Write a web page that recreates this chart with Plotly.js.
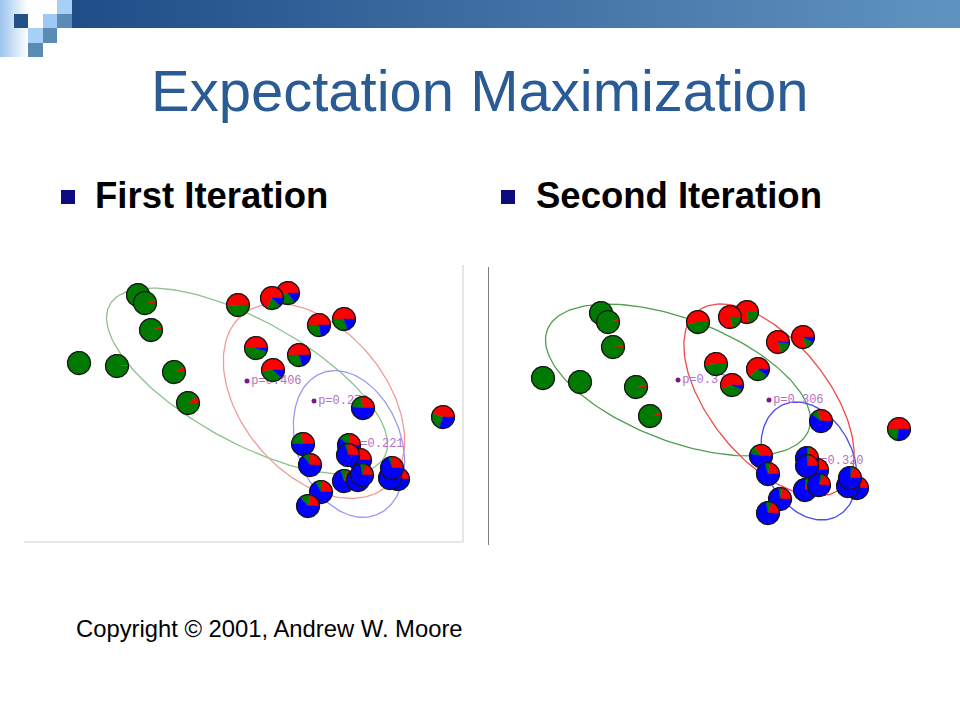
<!DOCTYPE html>
<html><head><meta charset="utf-8">
<script src="https://cdn.plot.ly/plotly-3.0.1.min.js"></script>
<style>
html,body{margin:0;padding:0;background:#fff;}
#wrap{position:relative;width:960px;height:720px;overflow:hidden;background:#fff;}
.d{position:absolute;}
#plot{position:absolute;left:0;top:0;width:960px;height:720px;}
</style></head><body>
<div id="wrap">
<div class="d" style="left:72px;top:0;width:888px;height:28px;background:linear-gradient(to right,#1f4d88,#6094c0);"></div>
<div class="d" style="left:0;top:0;width:28px;height:57px;background:linear-gradient(to right,#9cc4ee,#ffffff);"></div>
<div class="d" style="left:57px;top:0;width:15px;height:14px;background:#a8cff6;"></div>
<div class="d" style="left:14px;top:14px;width:14px;height:14px;background:#24508a;"></div>
<div class="d" style="left:43px;top:14px;width:14px;height:14px;background:#a0c8f4;"></div>
<div class="d" style="left:57px;top:14px;width:15px;height:14px;background:#5a8ab6;"></div>
<div class="d" style="left:28px;top:28px;width:15px;height:15px;background:#a8d0f6;"></div>
<div class="d" style="left:43px;top:28px;width:14px;height:15px;background:#5a8ab6;"></div>
<div class="d" style="left:28px;top:43px;width:15px;height:14px;background:#5a8ab6;"></div>
<div class="d" style="left:61px;top:190px;width:14px;height:14px;background:#0c0c80;"></div>
<div class="d" style="left:501px;top:190px;width:14px;height:14px;background:#0c0c80;"></div>
<div id="plot"></div>
</div>
<script>
// ---------- First iteration (left panel) ----------
const L_x = [114,121,127,55,93,150,164, 214,264,248,295,320,232,275,249, 339,419,279,286,325,336,324,320,334,338,374,366,368,297,284];
const L_y = [248,240,213,180,177,171,140, 238,250,245,218,224,195,188,173, 135,126,99,78,98,83,88,62,63,68,64,65,75,51,37];
const L_red   = [0,0.04,0.05,0,0.01,0.08,0.10, 0.52,0.55,0.68,0.50,0.50,0.50,0.50,0.52, 0.28,0.45,0.28,0.25,0.25,0.30,0.25,0.20,0.20,0.20,0.18,0.20,0.25,0.25,0.22];
const L_green = [1,0.96,0.95,1,0.99,0.92,0.90, 0.48,0.30,0.20,0.28,0.30,0.45,0.30,0.36, 0.20,0.25,0.22,0.10,0.15,0.05,0.05,0.10,0.05,0.08,0.05,0.05,0.05,0.08,0.15];
const L_blue  = [0,0,0,0,0,0,0, 0,0.15,0.12,0.22,0.20,0.05,0.20,0.12, 0.52,0.30,0.50,0.65,0.60,0.65,0.70,0.70,0.75,0.72,0.77,0.75,0.70,0.67,0.63];
const L_ell_cx = [223,290,325];
const L_ell_cy = [162,142,99];
const L_ell_a = [157,112,76];
const L_ell_b = [61,72,52];
const L_ell_ang = [-29,-50,-69];
const L_labels = ['p=0.406','p=0.272','p=0.221'];

// ---------- Second iteration (right panel) ----------
const R_x = [113,120,125,55,92,148,162, 210,259,242,290,315,228,270,244, 333,411,273,280,329,319,319,317,331,369,360,362,292,280];
const R_y = [232,223,198,167,163,158,129, 223,233,228,203,208,181,176,160, 124,116,89,71,75,87,79,55,60,57,59,67,46,32];
const R_red   = [0,0.04,0.03,0,0,0.04,0.05, 0.54,0.78,0.80,0.80,0.80,0.52,0.62,0.56, 0.30,0.50,0.35,0.22,0.25,0.20,0.22,0.20,0.18,0.20,0.20,0.20,0.22,0.20];
const R_green = [1,0.96,0.97,1,1,0.96,0.95, 0.46,0.22,0.20,0.18,0.12,0.48,0.28,0.37, 0.10,0.22,0.12,0.08,0.05,0.05,0.04,0.05,0.05,0.04,0.05,0.04,0.05,0.08];
const R_blue  = [0,0,0,0,0,0,0, 0,0,0,0.02,0.08,0,0.10,0.07, 0.60,0.28,0.53,0.70,0.70,0.75,0.74,0.75,0.77,0.76,0.75,0.76,0.73,0.72];
const R_ell_cx = [190,281,321];
const R_ell_cy = [165,145,84];
const R_ell_a = [140,114,62];
const R_ell_b = [61,59,44];
const R_ell_ang = [-21,-51,-64];
const R_labels = ['p=0.374','p=0.306','p=0.320'];

// ---------- styling ----------
const PIE_R = 11.5;
const SLICE_COLORS = ['#ff0000','#007a00','#0000ff'];
const L_ELL_COLORS = ['#8cc08c','#f29a9a','#9a9af2'];
const R_ELL_COLORS = ['#4f9f4f','#f04a4a','#4a4af0'];

function ellipseTrace(cx, cy, a, b, angDeg, color, xa, ya) {
  const xs = [], ys = [];
  const p = angDeg * Math.PI / 180;
  for (let i = 0; i <= 180; i++) {
    const t = i * 2 * Math.PI / 180;
    xs.push(cx + a * Math.cos(t) * Math.cos(p) - b * Math.sin(t) * Math.sin(p));
    ys.push(cy + a * Math.cos(t) * Math.sin(p) + b * Math.sin(t) * Math.cos(p));
  }
  return {type:'scatter', mode:'lines', x:xs, y:ys, line:{color:color, width:1.3},
          xaxis:xa, yaxis:ya, hoverinfo:'skip', showlegend:false};
}

function wedgeTrace(cx, cy, a0, a1, color, xa, ya) {
  const xs = [cx], ys = [cy];
  const n = Math.max(2, Math.ceil((a1 - a0) / 3));
  for (let i = 0; i <= n; i++) {
    const t = (a0 + (a1 - a0) * i / n) * Math.PI / 180;
    xs.push(cx + PIE_R * Math.cos(t)); ys.push(cy + PIE_R * Math.sin(t));
  }
  xs.push(cx); ys.push(cy);
  return {type:'scatter', mode:'lines', x:xs, y:ys, fill:'toself', fillcolor:color,
          line:{width:0.4, color:color}, xaxis:xa, yaxis:ya, hoverinfo:'skip', showlegend:false};
}

function outlineTrace(cx, cy, xa, ya) {
  const xs = [], ys = [];
  for (let i = 0; i <= 72; i++) {
    const t = i * 2 * Math.PI / 72;
    xs.push(cx + PIE_R * Math.cos(t)); ys.push(cy + PIE_R * Math.sin(t));
  }
  return {type:'scatter', mode:'lines', x:xs, y:ys, line:{color:'#151515', width:1.3},
          xaxis:xa, yaxis:ya, hoverinfo:'skip', showlegend:false};
}

function panel(X, Y, RE, GR, BL, ecx, ecy, ea, eb, eang, ecol, labels, xa, ya) {
  const tr = [];
  for (let k = 0; k < ecx.length; k++) tr.push(ellipseTrace(ecx[k], ecy[k], ea[k], eb[k], eang[k], ecol[k], xa, ya));
  tr.push({type:'scatter', mode:'markers+text', x:ecx, y:ecy, text:labels, textposition:'middle right',
           marker:{size:5, color:'#7a1a8a'},
           textfont:{family:'Liberation Mono, Courier New, monospace', size:12, color:'#b46fc6'},
           xaxis:xa, yaxis:ya, hoverinfo:'skip', showlegend:false, cliponaxis:false});
  for (let i = 0; i < X.length; i++) {
    const fr = [RE[i], GR[i], BL[i]];
    const s = fr[0] + fr[1] + fr[2];
    let a = 0;
    for (let c = 0; c < 3; c++) {
      const span = fr[c] / s * 360;
      if (span > 0.01) tr.push(wedgeTrace(X[i], Y[i], a, a + span, SLICE_COLORS[c], xa, ya));
      a += span;
    }
    tr.push(outlineTrace(X[i], Y[i], xa, ya));
  }
  return tr;
}

const traces = [].concat(
  panel(L_x, L_y, L_red, L_green, L_blue, L_ell_cx, L_ell_cy, L_ell_a, L_ell_b, L_ell_ang, L_ELL_COLORS, L_labels, 'x', 'y'),
  panel(R_x, R_y, R_red, R_green, R_blue, R_ell_cx, R_ell_cy, R_ell_a, R_ell_b, R_ell_ang, R_ELL_COLORS, R_labels, 'x2', 'y2')
);

const hid = {visible:false, fixedrange:true, showgrid:false, zeroline:false};
const layout = {
  width:960, height:720, margin:{l:0,r:0,t:0,b:0},
  paper_bgcolor:'rgba(0,0,0,0)', plot_bgcolor:'rgba(0,0,0,0)',
  showlegend:false,
  xaxis:Object.assign({domain:[24/960, 464/960], range:[0,440]}, hid),
  yaxis:Object.assign({domain:[177/720, 455/720], range:[0,278]}, hid),
  xaxis2:Object.assign({domain:[488/960, 940/960], range:[0,452], anchor:'y2'}, hid),
  yaxis2:Object.assign({domain:[175/720, 455/720], range:[0,280], anchor:'x2'}, hid),
  shapes:[
    {type:'line', xref:'x', yref:'y', x0:439, x1:439, y0:1, y1:278, line:{color:'#dedede', width:1.5}},
    {type:'line', xref:'x', yref:'y', x0:-1, x1:439, y0:1, y1:1, line:{color:'#dedede', width:1.5}},
    {type:'line', xref:'x2', yref:'y2', x0:0, x1:0, y0:0, y1:278, line:{color:'#555555', width:1.5}}
  ],
  annotations:[
    {text:'Expectation Maximization', xref:'paper', yref:'paper', x:0.5, y:1-90/720, xanchor:'center', yanchor:'middle',
     showarrow:false, font:{family:'Liberation Sans, Arial, sans-serif', size:58, color:'#2a5b94'}},
    {text:'First Iteration', xref:'paper', yref:'paper', x:93/960, y:1-196/720, xanchor:'left', yanchor:'middle',
     showarrow:false, font:{family:'Liberation Sans, Arial, sans-serif', size:36.5, color:'#000000', weight:'bold'}},
    {text:'Second Iteration', xref:'paper', yref:'paper', x:534/960, y:1-196/720, xanchor:'left', yanchor:'middle',
     showarrow:false, font:{family:'Liberation Sans, Arial, sans-serif', size:36.5, color:'#000000', weight:'bold'}},
    {text:'Copyright © 2001, Andrew W. Moore', xref:'paper', yref:'paper', x:74/960, y:1-628/720, xanchor:'left', yanchor:'middle',
     showarrow:false, font:{family:'Liberation Sans, Arial, sans-serif', size:23.8, color:'#000000'}}
  ]
};

Plotly.newPlot('plot', traces, layout, {staticPlot:true, displayModeBar:false});
</script>
</body></html>
